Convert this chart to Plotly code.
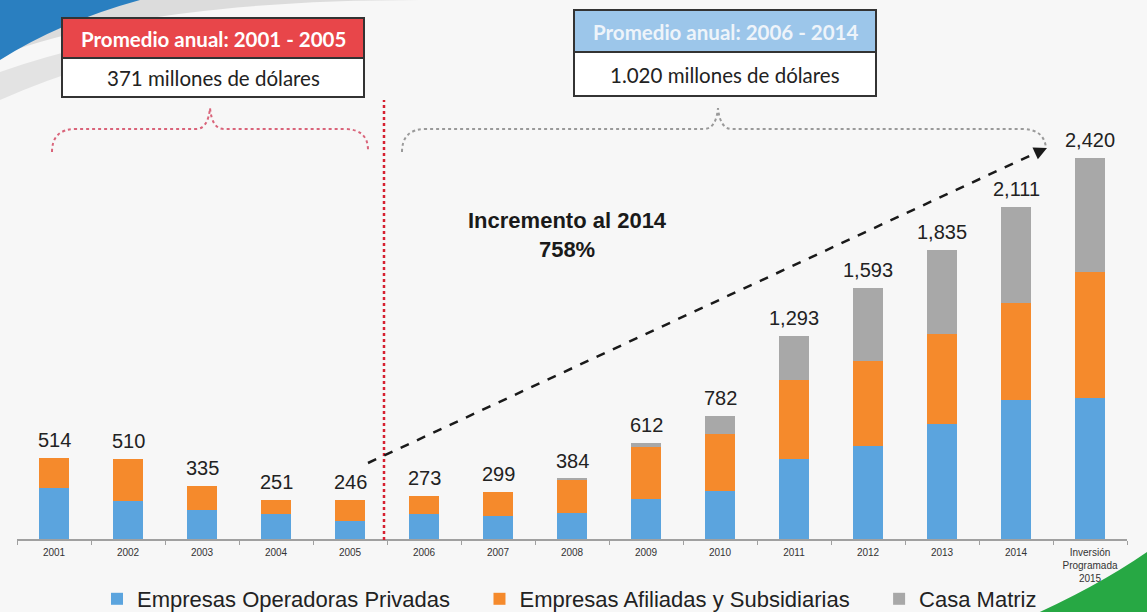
import plotly.graph_objects as go

# ---------------- data ----------------
categories = ["2001", "2002", "2003", "2004", "2005", "2006", "2007", "2008",
              "2009", "2010", "2011", "2012", "2013", "2014",
              "Inversión<br>Programada<br>2015"]
operadoras = [326, 242, 184, 159, 116, 159, 148, 167, 252, 307, 507, 593, 731, 884, 894]
afiliadas = [188, 268, 151, 92, 130, 114, 151, 212, 330, 363, 504, 538, 570, 619, 805]
matriz = [0, 0, 0, 0, 0, 0, 0, 5, 30, 112, 282, 462, 534, 608, 721]
totales = [514, 510, 335, 251, 246, 273, 299, 384, 612, 782, 1293, 1593, 1835, 2111, 2420]

series_names = ["Empresas Operadoras Privadas", "Empresas Afiliadas y Subsidiarias", "Casa Matriz"]
series_colors = ["#5BA4DE", "#F58A2C", "#A8A8A8"]

box1_title = "Promedio anual: 2001 - 2005"
box1_value = "371 millones de dólares"
box2_title = "Promedio anual: 2006 - 2014"
box2_value = "1.020 millones de dólares"
incremento = "Incremento al 2014<br>758%"

W, H = 1147, 620          # canvas slightly taller than the 612 px window (bottom rows cropped)
NBSP = "\u00a0"
legend_pad = [4, 4, 0]   # spacing between legend entries


def px(x):
    return x / W


def py(y):
    return 1 - y / H


def path(points_cmds):
    """Build an SVG path in paper coords from pixel coordinates."""
    out = []
    for cmd, *pts in points_cmds:
        coords = []
        for i in range(0, len(pts), 2):
            coords.append(f"{px(pts[i]):.5f},{py(pts[i + 1]):.5f}")
        out.append(cmd + " ".join(coords))
    return " ".join(out)


fig = go.Figure()
for name, vals, col, pad in zip(series_names, [operadoras, afiliadas, matriz], series_colors, legend_pad):
    fig.add_trace(go.Bar(x=categories, y=vals, name=name + NBSP * pad, marker_color=col,
                         marker_line_width=0))

annotations = []
for i, t in enumerate(totales):
    annotations.append(dict(x=i, y=t, xref="x", yref="y", text=f"{t:,}",
                            showarrow=False, xanchor="center", yanchor="bottom", yshift=5,
                            font=dict(family="Arial, Liberation Sans", size=20, color="#222222")))

# Increment text
annotations.append(dict(x=px(567), y=py(235), xref="paper", yref="paper",
                        text="<b>" + incremento + "</b>",
                        showarrow=False, xanchor="center", yanchor="middle",
                        font=dict(family="Arial, Liberation Sans", size=22, color="#1a1a1a")))
# box texts
box_txt = [
    (213, 39, "<b>" + box1_title + "</b>", "white"),
    (213, 78, box1_value, "#222222"),
    (725, 32, "<b>" + box2_title + "</b>", "#EEF4FA"),
    (725, 75, box2_value, "#222222"),
]
for bx, by, txt, col in box_txt:
    annotations.append(dict(x=px(bx), y=py(by), xref="paper", yref="paper", text=txt,
                            showarrow=False, xanchor="center", yanchor="middle",
                            font=dict(family="Lato, Open Sans", size=20.5, color=col)))
# arrowhead of dashed trend arrow
annotations.append(dict(x=px(1047), y=py(148), xref="paper", yref="paper", ax=-11, ay=5,
                        axref="pixel", ayref="pixel", showarrow=True, arrowhead=2,
                        arrowsize=1.3, arrowwidth=2, arrowcolor="#1a1a1a", text=""))

shapes = [
    # decorative swooshes
    dict(type="path", xref="paper", yref="paper", layer="below",
         path=path([("M", 0, 55), ("Q", 150, 0, 420, 0), ("L", 420, -2), ("L", 0, -2), ("Z",)]),
         fillcolor="#DCDCDC", line_width=0),
    dict(type="path", xref="paper", yref="paper", layer="below",
         path=path([("M", 0, 0), ("L", 140, 0), ("Q", 60, 22, 0, 60), ("Z",)]),
         fillcolor="#2A7FC0", line_width=0),
    dict(type="path", xref="paper", yref="paper", layer="below",
         path=path([("M", 0, 72), ("Q", 90, 40, 200, 28), ("L", 200, 40), ("Q", 90, 60, 0, 100), ("Z",)]),
         fillcolor="#E3E3E3", line_width=0),
    dict(type="path", xref="paper", yref="paper", layer="below",
         path=path([("M", 1022, 620), ("Q", 1095, 588, 1147, 552), ("L", 1147, 620), ("Z",)]),
         fillcolor="#27A844", line_width=0),
    # box 1
    dict(type="rect", xref="paper", yref="paper", x0=px(62), x1=px(364), y0=py(58), y1=py(18),
         fillcolor="#E8464A", line=dict(color="#333333", width=2)),
    dict(type="rect", xref="paper", yref="paper", x0=px(62), x1=px(364), y0=py(97), y1=py(58),
         fillcolor="white", line=dict(color="#333333", width=2)),
    # box 2
    dict(type="rect", xref="paper", yref="paper", x0=px(574), x1=px(876), y0=py(52), y1=py(10),
         fillcolor="#9CC6EA", line=dict(color="#333333", width=2)),
    dict(type="rect", xref="paper", yref="paper", x0=px(574), x1=px(876), y0=py(96), y1=py(52),
         fillcolor="white", line=dict(color="#333333", width=2)),
    # braces
    dict(type="path", xref="paper", yref="paper",
         path=path([("M", 52, 152), ("Q", 52, 129, 76, 129), ("L", 196, 129),
                    ("Q", 208, 129, 210, 108), ("Q", 212, 129, 224, 129), ("L", 344, 129),
                    ("Q", 368, 129, 368, 150)]),
         line=dict(color="#D9647A", width=2, dash="dot")),
    dict(type="path", xref="paper", yref="paper",
         path=path([("M", 402, 152), ("Q", 402, 129, 426, 129), ("L", 704, 129),
                    ("Q", 716, 129, 718, 108), ("Q", 720, 129, 732, 129), ("L", 1022, 129),
                    ("Q", 1044, 129, 1046, 148)]),
         line=dict(color="#9A9A9A", width=2, dash="dot")),
    # red vertical separator
    dict(type="line", xref="paper", yref="paper", x0=px(384), x1=px(384), y0=py(540), y1=py(100),
         line=dict(color="#D62030", width=2.5, dash="dot")),
    # dashed trend line
    dict(type="line", xref="paper", yref="paper", x0=px(368), y0=py(463), x1=px(1040), y1=py(151),
         line=dict(color="#1a1a1a", width=2.5, dash="dash")),
]

fig.update_layout(
    barmode="stack",
    bargap=0.6,
    width=W, height=H,
    margin=dict(l=0, r=0, t=0, b=0),
    paper_bgcolor="#F7F7F7",
    plot_bgcolor="rgba(0,0,0,0)",
    font=dict(family="Arial, Liberation Sans", color="#222222"),
    xaxis=dict(type="category", domain=[px(17), px(1127)], range=[-0.5, len(categories) - 0.5],
               showline=True, linecolor="#A0A0A0", linewidth=1.5, ticks="outside",
               tickson="boundaries", ticklen=4, tickcolor="#A0A0A0", showgrid=False,
               tickangle=0, automargin=False, ticklabelstandoff=3,
               tickfont=dict(family="Arial, Liberation Sans", size=10, color="#333333")),
    yaxis=dict(domain=[py(539), 1], range=[0, 3426], visible=False, showgrid=False),
    legend=dict(orientation="h", x=px(97), xanchor="left", y=0, yanchor="bottom",
                font=dict(family="Arial, Liberation Sans", size=22, color="#222222"),
                bgcolor="rgba(0,0,0,0)", itemwidth=30, traceorder="normal"),
    annotations=annotations,
    shapes=shapes,
)

fig.write_html("out.html", config={"displayModeBar": False},
               post_script="document.body.style.margin='0';document.body.style.overflow='hidden';")
